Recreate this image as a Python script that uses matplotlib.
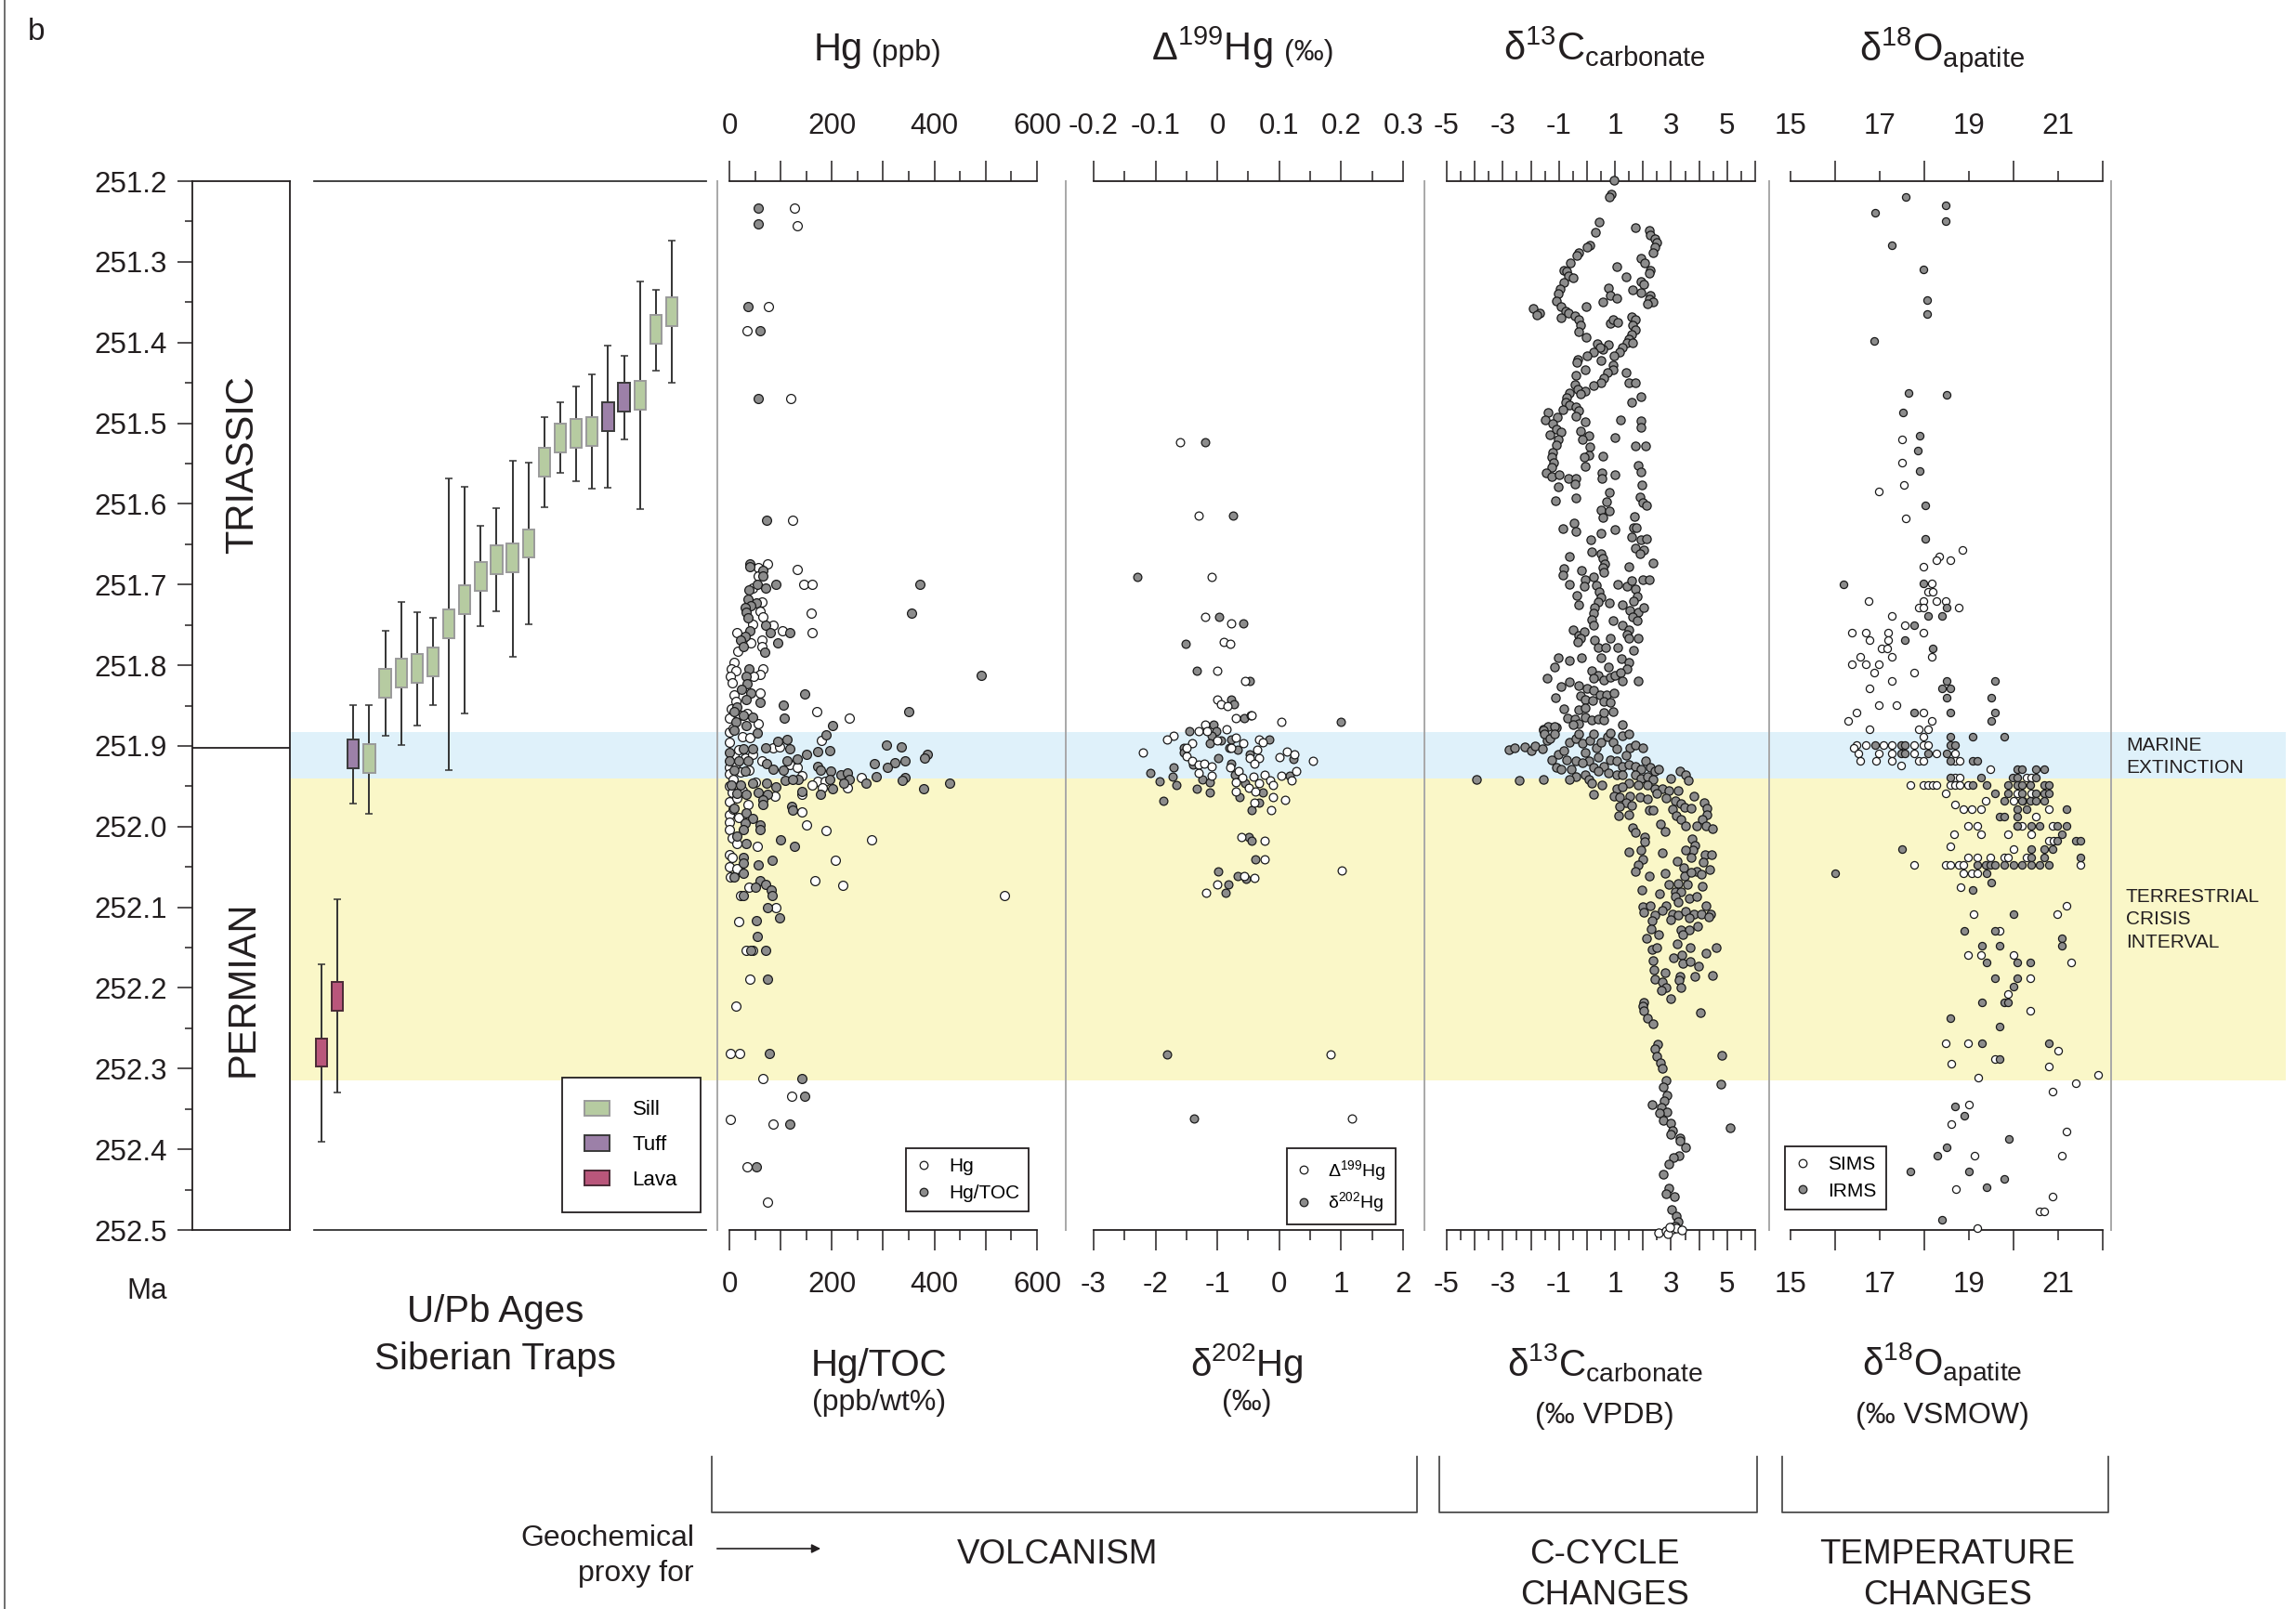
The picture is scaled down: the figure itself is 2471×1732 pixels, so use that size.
import numpy as np
import matplotlib.pyplot as plt
from matplotlib.patches import Patch, FancyArrowPatch
from matplotlib.lines import Line2D
from matplotlib.ticker import FixedLocator, FixedFormatter

plt.rcParams['font.family'] = ['Liberation Sans', 'DejaVu Sans']
plt.rcParams['mathtext.fontset'] = 'custom'
plt.rcParams['mathtext.rm'] = 'Liberation Sans'
plt.rcParams['mathtext.it'] = 'Liberation Sans:italic'
plt.rcParams['mathtext.bf'] = 'Liberation Sans:bold'

# ---------------- data ----------------
age_top, age_bottom = 251.2, 252.5
ptb_age = 251.902
marine_ext = (251.883, 251.940)
crisis = (251.940, 252.315)

# U/Pb ages of Siberian Traps: kind, age, young bound, old bound
ub_kind = ['Lava', 'Lava', 'Tuff', 'Sill', 'Sill', 'Sill', 'Sill', 'Sill', 'Sill', 'Sill',
           'Sill', 'Sill', 'Sill', 'Sill', 'Sill', 'Sill', 'Sill', 'Sill', 'Tuff', 'Tuff',
           'Sill', 'Sill', 'Sill']
ub_age = np.array([252.280, 252.210, 251.910, 251.916, 251.822, 251.810, 251.804, 251.796,
                   251.749, 251.719, 251.690, 251.669, 251.667, 251.649, 251.548, 251.518,
                   251.513, 251.510, 251.492, 251.468, 251.465, 251.384, 251.362])
ub_young = np.array([252.171, 252.090, 251.849, 251.849, 251.757, 251.722, 251.734, 251.741,
                     251.569, 251.579, 251.627, 251.605, 251.547, 251.549, 251.492, 251.474,
                     251.454, 251.439, 251.404, 251.417, 251.324, 251.335, 251.274])
ub_old = np.array([252.391, 252.330, 251.971, 251.984, 251.887, 251.899, 251.875, 251.849,
                   251.930, 251.860, 251.752, 251.733, 251.789, 251.749, 251.604, 251.561,
                   251.572, 251.581, 251.580, 251.520, 251.607, 251.435, 251.450])

# Hg (ppb), open symbols: (age, value)
hg_conc = np.array([
    (251.233, 126), (251.255, 132), (251.356, 77), (251.385, 34), (251.470, 120), (251.620, 123),
    (251.674, 75), (251.679, 56), (251.681, 132), (251.700, 145), (251.700, 161), (251.689, 57),
    (251.704, 45), (251.722, 63), (251.733, 60), (251.740, 66), (251.735, 160), (251.750, 85),
    (251.757, 104), (251.760, 161), (251.749, 45), (251.760, 15), (251.769, 63), (251.772, 42),
    (251.777, 63), (251.783, 16), (251.797, 9), (251.804, 3), (251.807, 12), (251.805, 66),
    (251.811, 60), (251.814, 48), (251.814, 2), (251.822, 6), (251.835, 60), (251.837, 9),
    (251.854, 3), (251.857, 171), (251.866, 234), (251.866, 0), (251.873, 57), (251.883, 0),
    (251.893, 179), (251.902, 85), (251.901, 97), (251.896, 0), (251.912, 9), (251.918, 63),
    (251.923, 118), (251.926, 133), (251.927, 0), (251.935, 0), (251.937, 142), (251.939, 257),
    (251.944, 172), (251.949, 162), (251.944, 187), (251.952, 181), (251.952, 231), (251.950, 0),
    (251.962, 88), (251.960, 142), (251.969, 0), (251.973, 36), (251.982, 142), (251.985, 0),
    (251.989, 18), (251.994, 0), (251.998, 151), (252.004, 0), (252.005, 189), (252.014, 6),
    (252.016, 277), (252.021, 15), (252.025, 54), (252.035, 0), (252.038, 6), (252.042, 207),
    (252.050, 0), (252.052, 15), (252.063, 2), (252.067, 167), (252.075, 38), (252.073, 222),
    (252.085, 21), (252.085, 536), (252.100, 91), (252.118, 18), (252.153, 33), (252.153, 46),
    (252.189, 39), (252.223, 12), (252.281, 2), (252.281, 20), (252.312, 66), (252.334, 121),
    (252.363, 2), (252.369, 86), (252.422, 34), (252.466, 74),
    (251.845, 12), (251.862, 20), (251.878, 8), (251.888, 25), (251.905, 18), (251.915, 30),
    (251.922, 12), (251.932, 22), (251.941, 8), (251.955, 25), (251.958, 5), (251.965, 15),
    (251.978, 8), (251.860, 35), (251.890, 40), (251.910, 45), (251.930, 38), (251.945, 50)])

# Hg/TOC (ppb/wt%), filled symbols: (age, value)
hg_toc = np.array([
    (251.233, 57), (251.253, 57), (251.356, 37), (251.385, 60), (251.470, 57), (251.620, 72),
    (251.674, 39), (251.678, 40), (251.683, 66), (251.689, 66), (251.700, 54), (251.700, 91),
    (251.704, 71), (251.707, 38), (251.718, 36), (251.723, 53), (251.726, 41), (251.729, 30),
    (251.734, 33), (251.741, 36), (251.750, 71), (251.757, 39), (251.760, 80), (251.760, 117),
    (251.764, 30), (251.769, 21), (251.772, 94), (251.777, 27), (251.784, 68), (251.700, 371),
    (251.735, 356), (251.813, 492), (251.804, 38), (251.814, 33), (251.823, 34), (251.830, 24),
    (251.834, 42), (251.843, 33), (251.846, 60), (251.836, 146), (251.849, 105), (251.866, 107),
    (251.852, 15), (251.858, 9), (251.862, 27), (251.864, 45), (251.870, 12), (251.875, 33),
    (251.875, 202), (251.886, 189), (251.857, 350), (251.881, 9), (251.884, 54), (251.894, 94),
    (251.892, 112), (251.899, 306), (251.901, 335), (251.908, 0), (251.904, 27), (251.904, 45),
    (251.902, 70), (251.903, 118), (251.907, 173), (251.906, 196), (251.911, 387), (251.915, 380),
    (251.911, 151), (251.918, 0), (251.919, 18), (251.918, 36), (251.918, 112), (251.916, 133),
    (251.922, 73), (251.922, 283), (251.921, 323), (251.926, 309), (251.919, 342), (251.930, 9),
    (251.931, 30), (251.929, 85), (251.930, 105), (251.925, 173), (251.930, 177), (251.931, 198),
    (251.936, 218), (251.934, 230), (251.938, 286), (251.939, 342), (251.943, 337), (251.942, 234),
    (251.946, 223), (251.941, 196), (251.946, 266), (251.946, 429), (251.948, 3), (251.949, 21),
    (251.946, 45), (251.946, 73), (251.951, 91), (251.943, 109), (251.941, 135), (251.942, 124),
    (251.959, 15), (251.960, 33), (251.958, 57), (251.960, 75), (251.956, 141), (251.960, 178),
    (251.953, 202), (251.953, 378), (251.967, 66), (251.973, 66), (251.975, 121), (251.980, 124),
    (251.977, 9), (251.983, 33), (251.990, 45), (251.996, 30), (251.998, 60), (252.004, 60),
    (252.004, 27), (252.012, 15), (252.016, 100), (252.025, 127), (252.021, 33), (252.038, 27),
    (252.047, 56), (252.042, 83), (252.045, 27), (252.058, 27), (252.063, 9), (252.067, 60),
    (252.072, 70), (252.079, 82), (252.075, 51), (252.085, 27), (252.085, 83), (252.100, 75),
    (252.113, 98), (252.117, 53), (252.136, 54), (252.153, 41), (252.153, 70), (252.189, 75),
    (252.281, 78), (252.312, 142), (252.334, 146), (252.369, 117), (252.422, 53)])

# Delta199Hg (permil), open symbols
d199 = np.array([
    (251.523, -0.061), (251.615, -0.031), (251.690, -0.010), (251.740, -0.020), (251.748, 0.022),
    (251.771, 0.010), (251.774, 0.020), (251.807, 0.000), (251.820, 0.044), (251.843, -0.001),
    (251.848, 0.005), (251.850, 0.016), (251.866, 0.030), (251.862, 0.055), (251.870, 0.103),
    (251.874, -0.020), (251.882, -0.030), (251.882, -0.017), (251.879, 0.014), (251.887, -0.071),
    (251.892, -0.081), (251.893, -0.001), (251.890, 0.030), (251.897, 0.042), (251.892, 0.067),
    (251.896, 0.074), (251.897, -0.041), (251.902, -0.050), (251.902, 0.022), (251.905, 0.065),
    (251.908, -0.121), (251.913, -0.050), (251.918, -0.041), (251.923, -0.031), (251.922, -0.021),
    (251.925, -0.010), (251.915, 0.052), (251.915, 0.067), (251.922, 0.060), (251.914, 0.101),
    (251.907, 0.112), (251.911, 0.124), (251.919, 0.154), (251.927, 0.020), (251.931, 0.034),
    (251.933, -0.031), (251.937, -0.010), (251.939, 0.040), (251.938, 0.059), (251.936, 0.077),
    (251.937, 0.104), (251.931, 0.128), (251.945, 0.030), (251.952, 0.051), (251.946, 0.067),
    (251.943, 0.086), (251.949, 0.090), (251.943, 0.120), (251.963, 0.090), (251.957, 0.030),
    (251.957, 0.062), (251.967, 0.110), (251.970, 0.060), (251.979, 0.087), (252.013, 0.038),
    (252.017, 0.077), (252.040, 0.077), (252.054, 0.201), (252.061, 0.043), (252.064, 0.060),
    (252.072, 0.000), (252.082, -0.018), (252.282, 0.183), (252.362, 0.217)])

# delta202Hg (permil), filled symbols
d202 = np.array([
    (251.523, -1.20), (251.615, -0.75), (251.690, -2.30), (251.740, -0.97), (251.748, -0.59),
    (251.774, -1.51), (251.807, -1.34), (251.820, -0.47), (251.843, -0.78), (251.848, -0.73),
    (251.866, -0.57), (251.862, -0.46), (251.870, 0.99), (251.874, -1.06), (251.882, -1.02),
    (251.882, -1.46), (251.887, -1.10), (251.893, -0.94), (251.892, -0.78), (251.892, -0.16),
    (251.897, -1.13), (251.902, -1.54), (251.902, -0.81), (251.905, -0.68), (251.908, -1.55),
    (251.911, -0.48), (251.923, -1.40), (251.915, -0.99), (251.916, 0.23), (251.937, 0.17),
    (251.922, -0.78), (251.927, -1.71), (251.933, -2.08), (251.938, -1.72), (251.944, -1.94),
    (251.949, -1.67), (251.941, -1.25), (251.945, -1.13), (251.936, -0.72), (251.946, -0.56),
    (251.958, -0.26), (251.953, -1.33), (251.958, -1.13), (251.968, -1.88), (251.963, -0.64),
    (251.970, -0.32), (251.980, -0.45), (252.013, -0.49), (252.018, -0.44), (252.040, -0.38),
    (252.055, -0.99), (252.061, -0.68), (252.065, -0.53), (252.072, -0.82), (252.082, -0.87),
    (252.282, -1.81), (252.362, -1.38)])

# delta13C carbonate (permil VPDB)
d13c = np.array([
    (251.199, 0.96), (251.216, 0.88), (251.220, 0.81), (251.251, 0.45), (251.263, 0.30),
    (251.258, 1.71), (251.261, 2.23), (251.267, 2.26), (251.271, 2.43), (251.276, 2.48),
    (251.282, 2.43), (251.289, 2.37), (251.279, 0.11), (251.282, 0.00), (251.289, -0.28),
    (251.292, -0.37), (251.301, -0.59), (251.295, 1.93), (251.301, 2.06), (251.306, 1.05),
    (251.310, 2.26), (251.314, 2.22), (251.310, -0.81), (251.312, -0.72), (251.317, -0.66),
    (251.320, -0.50), (251.319, 1.38), (251.324, 1.91), (251.328, 2.02), (251.335, 1.63),
    (251.338, 1.91), (251.342, 2.26), (251.346, 2.21), (251.350, 2.35), (251.352, 2.17),
    (251.332, 0.77), (251.342, 0.83), (251.345, 1.07), (251.350, 0.55), (251.325, -0.83),
    (251.333, -0.96), (251.339, -1.03), (251.348, -1.10), (251.355, -0.94), (251.361, -0.77),
    (251.358, -1.93), (251.364, -1.68), (251.366, -1.80), (251.355, -0.03), (251.364, -0.66),
    (251.369, -0.91), (251.367, -0.44), (251.372, -0.28), (251.379, -0.22), (251.387, -0.30),
    (251.393, -0.02), (251.376, 0.83), (251.372, 0.92), (251.375, 1.11), (251.368, 1.58),
    (251.372, 1.73), (251.379, 1.62), (251.384, 1.71), (251.390, 1.60), (251.396, 1.49),
    (251.400, 1.43), (251.400, 1.62), (251.406, 1.27), (251.412, 1.16), (251.417, 0.96),
    (251.403, 0.77), (251.408, 0.55), (251.401, 0.36), (251.406, 0.47), (251.412, 0.22),
    (251.417, 0.00), (251.421, -0.33), (251.425, -0.37), (251.434, -0.06), (251.422, 0.50),
    (251.428, 0.94), (251.434, 0.92), (251.437, 0.74), (251.444, 0.61), (251.450, 0.50),
    (251.453, 0.22), (251.437, 1.38), (251.450, 1.49), (251.450, 1.71), (251.441, -0.41),
    (251.452, -0.44), (251.458, -0.33), (251.460, -0.06), (251.464, -0.22), (251.463, -0.61),
    (251.468, -0.72), (251.474, -0.77), (251.478, -0.61), (251.480, -0.39), (251.484, -0.28),
    (251.483, -0.85), (251.474, 1.60), (251.467, 1.93), (251.487, -1.38), (251.496, -1.49),
    (251.493, -1.05), (251.500, -1.21), (251.507, -1.10), (251.514, -1.32), (251.511, -0.94),
    (251.520, -1.03), (251.527, -1.10), (251.536, -1.21), (251.542, -1.27), (251.549, -1.18),
    (251.555, -1.27), (251.562, -1.47), (251.566, -1.25), (251.564, -1.00), (251.491, -0.39),
    (251.498, -0.06), (251.510, -0.22), (251.516, 0.06), (251.520, -0.17), (251.529, 0.11),
    (251.540, 0.06), (251.542, -0.11), (251.553, -0.06), (251.496, 1.19), (251.497, 1.93),
    (251.505, 1.93), (251.518, 0.99), (251.528, 1.71), (251.528, 2.10), (251.541, 0.58),
    (251.552, 1.82), (251.560, 1.93), (251.562, 0.53), (251.568, 0.52), (251.564, 0.99),
    (251.569, -0.66), (251.568, -0.41), (251.575, -0.42), (251.579, -1.02), (251.596, -1.12),
    (251.593, -0.39), (251.586, 0.79), (251.597, 0.69), (251.576, 1.95), (251.591, 1.89),
    (251.598, 1.99), (251.602, 2.13), (251.608, 0.50), (251.617, 0.56), (251.609, 0.81),
    (251.616, 1.69), (251.631, -0.85), (251.624, -0.46), (251.634, -0.39), (251.636, 0.50),
    (251.632, 1.00), (251.630, 1.66), (251.630, 1.77), (251.644, 0.13), (251.641, 1.60),
    (251.644, 1.93), (251.643, 2.13), (251.655, 1.71), (251.657, 2.02), (251.662, 1.88),
    (251.659, 0.17), (251.662, 0.50), (251.668, 0.58), (251.674, 0.64), (251.679, 0.55),
    (251.685, 0.61), (251.665, -0.63), (251.680, -0.81), (251.688, -0.85), (251.682, -0.19),
    (251.673, 2.35), (251.678, 1.49), (251.700, -0.61), (251.694, -0.06), (251.691, 0.22),
    (251.702, -0.08), (251.701, 0.33), (251.700, 1.10), (251.702, 1.43), (251.695, 1.60),
    (251.694, 1.99), (251.694, 2.23), (251.706, 1.71), (251.715, 1.80), (251.721, 1.66),
    (251.709, 0.44), (251.716, 0.50), (251.722, 0.39), (251.729, 0.28), (251.736, 0.22),
    (251.743, 0.17), (251.750, 0.25), (251.723, 0.81), (251.713, -0.37), (251.725, -0.28),
    (251.725, 1.27), (251.732, 1.54), (251.734, 1.82), (251.729, 2.01), (251.740, 1.62),
    (251.745, 1.80), (251.745, 0.92), (251.750, 1.27), (251.756, 1.49), (251.762, 1.43),
    (251.767, 1.49), (251.767, 1.82), (251.756, -0.50), (251.763, -0.30), (251.758, -0.11),
    (251.767, -0.22), (251.771, -0.33), (251.769, 0.28), (251.778, 0.39), (251.778, 0.66),
    (251.767, 0.83), (251.778, 1.11), (251.781, 1.66), (251.791, -1.02), (251.802, -1.16),
    (251.816, -1.41), (251.794, -0.64), (251.791, -0.19), (251.791, 0.50), (251.802, 0.77),
    (251.792, 1.24), (251.797, 1.49), (251.804, 1.43), (251.807, 0.17), (251.813, 0.39),
    (251.818, 0.61), (251.815, 0.83), (251.813, 0.99), (251.809, 1.21), (251.819, 1.82),
    (251.820, 1.27), (251.816, 0.25), (251.821, -0.61), (251.826, -0.94), (251.825, -0.28),
    (251.829, 0.00), (251.831, 0.22), (251.840, -1.13), (251.838, -0.22), (251.842, -0.06),
    (251.837, 0.47), (251.837, 0.69), (251.835, 0.96), (251.844, 0.19), (251.854, -0.83),
    (251.855, -0.28), (251.853, -0.06), (251.845, 0.61), (251.846, 0.83), (251.857, 0.94),
    (251.865, -0.70), (251.867, -0.44), (251.864, -0.06), (251.868, 0.17), (251.867, 0.39),
    (251.868, 0.61), (251.874, 1.25), (251.879, -1.55), (251.876, -1.38), (251.877, -1.10),
    (251.859, 0.61), (251.872, -0.28), (251.874, -0.50), (251.876, -1.16), (251.881, -1.55),
    (251.905, -2.79), (251.902, -2.57), (251.901, -2.21), (251.906, -1.99), (251.900, -1.84),
    (251.904, -1.60), (251.893, -1.43), (251.885, -1.51), (251.891, -1.33), (251.885, -1.16),
    (251.917, -1.27), (251.927, -1.10), (251.929, -0.94), (251.910, -1.03), (251.906, -0.83),
    (251.917, -0.72), (251.929, -0.55), (251.919, -0.41), (251.895, -0.61), (251.891, -0.39),
    (251.885, -0.30), (251.897, -0.17), (251.908, -0.06), (251.893, 0.11), (251.885, 0.22),
    (251.902, 0.33), (251.914, 0.39), (251.895, 0.50), (251.889, 0.72), (251.884, 0.83),
    (251.895, 0.94), (251.904, 1.05), (251.887, 1.27), (251.885, 1.49), (251.902, 1.54),
    (251.899, 1.71), (251.902, 2.00), (251.917, 0.83), (251.925, 0.61), (251.919, 1.05),
    (251.925, 1.27), (251.912, 1.38), (251.919, 0.06), (251.921, -0.17), (251.927, 0.25),
    (251.931, 0.39), (251.934, 0.77), (251.936, 1.05), (251.936, -0.06), (251.942, 0.06),
    (251.946, 0.17), (251.938, -0.39), (251.942, -0.61), (251.942, -1.55), (251.943, -2.43),
    (251.942, -3.95), (251.948, 0.52), (251.960, 0.22), (251.923, 1.49), (251.925, 1.71),
    (251.929, 1.93), (251.919, 2.10), (251.927, 2.26), (251.931, 2.43), (251.929, 2.54),
    (251.936, 1.27), (251.936, 1.71), (251.940, 1.93), (251.938, 2.15), (251.942, 2.37),
    (251.946, 1.49), (251.948, 1.82), (251.948, 2.15), (251.953, 2.43), (251.953, 2.70),
    (251.955, 2.93), (251.955, 3.26), (251.931, 3.31), (251.936, 3.53), (251.943, 3.61),
    (251.940, 3.00), (251.953, 1.05), (251.951, 1.27), (251.962, 0.96), (251.963, 1.16),
    (251.962, 1.54), (251.963, 1.88), (251.966, 2.15), (251.959, 2.48), (251.965, 2.81),
    (251.968, 3.14), (251.972, 3.36), (251.962, 3.81), (251.970, 1.38), (251.974, 1.60),
    (251.975, 1.16), (251.987, 1.14), (251.985, 1.51), (251.979, 2.21), (251.980, 2.37),
    (251.978, 3.04), (251.987, 3.20), (251.976, 3.48), (251.977, 3.70), (251.970, 4.17),
    (251.977, 4.27), (251.985, 4.27), (251.991, 4.11), (251.999, 3.92), (251.999, 4.25),
    (252.002, 4.47), (251.991, 3.36), (251.999, 3.53), (251.997, 2.62), (252.006, 2.79),
    (252.001, 1.62), (252.007, 1.71), (252.013, 2.06), (252.019, 2.06), (252.015, 3.75),
    (252.023, 3.86), (252.029, 3.79), (252.029, 3.53), (252.031, 1.49), (252.029, 1.91),
    (252.040, 1.99), (252.032, 2.70), (252.035, 4.20), (252.035, 4.45), (252.038, 3.70),
    (252.044, 4.14), (252.043, 3.22), (252.051, 3.45), (252.047, 1.82), (252.055, 1.71),
    (252.061, 2.23), (252.058, 2.79), (252.055, 3.92), (252.053, 4.36), (252.059, 4.08),
    (252.061, 3.48), (252.057, 3.70), (252.072, 2.93), (252.070, 3.26), (252.072, 3.59),
    (252.074, 4.11), (252.078, 1.96), (252.083, 2.59), (252.081, 3.14), (252.081, 3.36),
    (252.087, 3.14), (252.089, 3.64), (252.087, 3.92), (252.093, 3.26), (252.099, 1.99),
    (252.098, 2.26), (252.106, 2.04), (252.098, 2.81), (252.104, 2.68), (252.110, 2.43),
    (252.117, 2.32), (252.108, 3.04), (252.110, 3.26), (252.115, 2.98), (252.105, 3.53),
    (252.108, 3.81), (252.108, 4.08), (252.098, 4.23), (252.108, 4.42), (252.112, 4.34),
    (252.113, 3.66), (252.127, 2.30), (252.134, 2.54), (252.138, 2.13), (252.128, 3.36),
    (252.128, 3.64), (252.134, 3.42), (252.124, 3.94), (252.145, 3.23), (252.152, 2.32),
    (252.150, 2.48), (252.150, 3.67), (252.150, 4.61), (252.157, 4.25), (252.163, 3.09),
    (252.159, 3.39), (252.170, 3.42), (252.167, 3.67), (252.173, 3.97), (252.166, 2.37),
    (252.178, 2.40), (252.189, 2.43), (252.181, 2.79), (252.186, 3.31), (252.190, 3.28),
    (252.186, 3.86), (252.185, 4.49), (252.193, 2.70), (252.199, 2.81), (252.203, 2.65),
    (252.199, 3.36), (252.213, 2.98), (252.218, 2.04), (252.223, 1.99), (252.228, 2.04),
    (252.230, 4.05), (252.238, 2.15), (252.244, 2.34), (252.270, 2.52), (252.275, 2.43),
    (252.285, 2.48), (252.293, 2.61), (252.300, 2.68), (252.283, 4.82), (252.319, 4.78),
    (252.315, 2.81), (252.323, 2.73), (252.333, 2.85), (252.340, 2.76), (252.345, 2.33),
    (252.348, 2.65), (252.354, 2.85), (252.355, 2.59), (252.364, 2.73), (252.368, 2.98),
    (252.373, 5.11), (252.377, 3.04), (252.381, 2.98), (252.386, 3.31), (252.389, 3.31),
    (252.398, 3.51), (252.408, 3.28), (252.410, 3.07), (252.418, 2.93), (252.431, 2.72),
    (252.448, 2.93), (252.455, 2.81), (252.459, 3.12), (252.475, 3.01), (252.483, 3.20),
    (252.490, 3.26), (252.497, 3.05), (252.495, 3.15)])
d13c_open = np.array([(252.503, 2.54), (252.501, 2.81), (252.499, 3.04), (252.498, 3.20),
                      (252.500, 3.37), (252.505, 2.87), (252.497, 2.95)])

# delta18O apatite (permil VSMOW): SIMS open, IRMS filled
d18o_sims = np.array([
    (251.520, 17.51), (251.549, 17.51), (251.585, 16.98), (251.576, 17.55), (251.618, 17.58),
    (251.657, 18.85), (251.665, 18.34),
    (251.678, 17.98), (251.670, 18.28), (251.670, 18.58), (251.699, 18.17), (251.709, 18.08),
    (251.709, 18.18), (251.720, 16.75), (251.720, 17.98), (251.720, 18.28), (251.720, 18.48),
    (251.729, 17.87), (251.729, 17.98), (251.729, 18.78), (251.739, 17.27), (251.750, 17.57),
    (251.760, 16.38), (251.760, 16.68), (251.760, 17.18), (251.760, 17.98), (251.769, 16.77),
    (251.769, 17.18), (251.779, 17.05), (251.779, 17.16), (251.789, 16.57), (251.789, 17.27),
    (251.789, 18.17), (251.799, 16.37), (251.799, 16.68), (251.799, 16.98), (251.809, 16.87),
    (251.809, 17.77), (251.819, 17.27), (251.829, 16.77), (251.849, 16.98), (251.849, 17.38),
    (251.859, 16.47), (251.859, 17.98), (251.869, 16.29), (251.869, 18.17), (251.879, 16.77),
    (251.879, 17.87), (251.879, 18.08), (251.889, 17.98), (251.899, 16.47), (251.899, 16.68),
    (251.899, 17.09), (251.899, 17.27), (251.899, 17.77), (251.899, 17.98), (251.899, 18.08),
    (251.902, 16.42), (251.909, 16.52), (251.909, 16.98), (251.909, 17.27), (251.909, 17.77),
    (251.909, 18.28), (251.909, 18.69), (251.919, 16.57), (251.919, 16.92), (251.919, 17.27),
    (251.919, 17.87), (251.919, 17.98), (251.919, 18.69), (251.919, 18.80), (251.924, 17.47),
    (251.929, 19.48), (251.939, 18.69), (251.939, 18.80), (251.949, 17.68), (251.949, 17.98),
    (251.949, 18.08), (251.949, 18.18), (251.949, 18.28), (251.949, 18.58), (251.949, 18.69),
    (251.949, 18.80), (251.949, 18.97), (251.959, 18.48), (251.939, 20.29), (251.939, 20.40),
    (251.959, 20.09), (251.968, 19.99), (251.968, 20.20), (251.959, 20.40), (251.968, 19.38),
    (251.973, 18.69), (251.978, 18.88), (251.978, 19.07), (251.978, 19.28), (251.978, 20.79),
    (251.988, 20.49), (251.999, 18.97), (251.999, 19.18), (251.999, 20.09), (251.999, 20.19),
    (251.999, 20.88), (252.009, 18.67), (252.009, 19.28), (252.009, 19.88), (252.009, 20.39),
    (252.018, 20.79), (252.018, 20.90), (252.024, 18.58), (252.028, 19.99), (252.038, 20.29),
    (252.038, 18.97), (252.038, 19.18), (252.038, 19.48), (252.038, 19.79), (252.038, 19.88),
    (252.048, 17.77), (252.048, 18.48), (252.048, 18.58), (252.048, 18.78), (252.048, 18.88),
    (252.048, 21.49), (252.058, 18.88), (252.058, 19.07), (252.058, 19.18), (252.075, 18.82),
    (252.098, 21.19), (252.108, 19.10), (252.108, 20.98), (252.129, 19.68), (252.159, 18.98),
    (252.159, 19.28), (252.159, 19.99), (252.168, 21.29), (252.188, 20.38), (252.208, 19.88),
    (252.228, 20.38), (252.268, 18.48), (252.268, 18.98), (252.278, 20.99), (252.288, 19.58),
    (252.294, 18.60), (252.297, 20.79), (252.311, 19.21), (252.308, 21.89), (252.318, 21.39),
    (252.328, 20.88), (252.345, 19.01), (252.369, 18.61), (252.378, 21.19), (252.408, 19.12),
    (252.408, 21.08), (252.449, 18.70), (252.458, 20.88), (252.477, 20.58), (252.477, 20.68),
    (252.498, 19.19)])
d18o_irms = np.array([
    (251.220, 17.58), (251.230, 18.48), (251.239, 16.90), (251.250, 18.48), (251.280, 17.27),
    (251.309, 17.98), (251.347, 18.06), (251.365, 18.06), (251.398, 16.88), (251.462, 17.64),
    (251.465, 18.49), (251.487, 17.53), (251.516, 17.90), (251.534, 17.86), (251.559, 17.90),
    (251.602, 18.03), (251.643, 18.03),
    (251.700, 16.19), (251.699, 17.98), (251.729, 18.49), (251.739, 18.09), (251.739, 18.39),
    (251.750, 17.77), (251.769, 17.57), (251.779, 18.18), (251.820, 18.49), (251.820, 19.58),
    (251.829, 18.39), (251.829, 18.58), (251.840, 18.49), (251.840, 19.49), (251.859, 17.77),
    (251.859, 18.58), (251.859, 19.58), (251.869, 19.49), (251.889, 18.58), (251.889, 19.09),
    (251.889, 19.79), (251.899, 16.89), (251.899, 17.47), (251.899, 17.57), (251.899, 18.58),
    (251.899, 18.69), (251.909, 17.47), (251.909, 17.57), (251.909, 18.08), (251.909, 18.49),
    (251.919, 18.58), (251.919, 19.09), (251.919, 19.18), (251.929, 20.09), (251.929, 20.19),
    (251.929, 20.49), (251.929, 20.68), (251.939, 18.58), (251.939, 19.28), (251.939, 19.98),
    (251.939, 20.09), (251.939, 20.49), (251.949, 19.09), (251.949, 19.39), (251.949, 19.88),
    (251.949, 20.09), (251.949, 20.19), (251.949, 20.38), (251.949, 20.68), (251.949, 20.79),
    (251.959, 19.58), (251.959, 19.88), (251.959, 20.19), (251.959, 20.49), (251.959, 20.68),
    (251.959, 20.79), (251.968, 19.79), (251.968, 20.19), (251.968, 20.38), (251.968, 20.49),
    (251.968, 20.68), (251.978, 20.09), (251.978, 20.29), (251.978, 21.19), (251.988, 19.68),
    (251.988, 19.79), (251.988, 20.09), (251.999, 20.09), (251.999, 20.39), (251.999, 20.59),
    (251.999, 20.98), (251.999, 21.19), (252.009, 21.08), (252.018, 20.98), (252.018, 21.39),
    (252.018, 21.49), (252.028, 17.50), (252.028, 20.39), (252.028, 20.68), (252.028, 20.88),
    (252.038, 20.39), (252.038, 20.68), (252.038, 21.49), (252.048, 19.18), (252.048, 19.38),
    (252.048, 19.48), (252.048, 19.58), (252.048, 19.79), (252.048, 19.99), (252.048, 20.19),
    (252.048, 20.39), (252.048, 20.59), (252.048, 20.79), (252.058, 15.99), (252.058, 19.39),
    (252.069, 19.49), (252.078, 19.09), (252.108, 19.99), (252.129, 18.89), (252.129, 19.58),
    (252.138, 21.08), (252.148, 21.08), (252.148, 19.29), (252.148, 19.68), (252.168, 19.39),
    (252.168, 20.09), (252.168, 20.38), (252.188, 19.58), (252.188, 20.09), (252.198, 19.99),
    (252.218, 19.79), (252.218, 19.88), (252.218, 19.29), (252.238, 18.58), (252.248, 19.68),
    (252.268, 19.29), (252.268, 20.79), (252.288, 19.68), (252.347, 18.69), (252.358, 18.89),
    (252.387, 19.89), (252.397, 18.49), (252.408, 18.29), (252.427, 17.69), (252.427, 18.99),
    (252.437, 19.79), (252.447, 19.39), (252.487, 18.39)])

# ---------------- figure ----------------
W, H = 2471, 1732
fig = plt.figure(figsize=(W / 100, H / 100), dpi=100)
TXT = '#231f20'
GREY_LINE = '#a8a8a8'
FILL = '#8c8c8c'


def box(x0, y0, x1, y1):
    return fig.add_axes([x0 / W, 1 - y1 / H, (x1 - x0) / W, (y1 - y0) / H])


def ftext(x, y, s, **kw):
    kw.setdefault('color', TXT)
    fig.text(x / W, 1 - y / H, s, **kw)


def fline(xs, ys, **kw):
    fig.add_artist(Line2D([x / W for x in xs], [1 - y / H for y in ys],
                          transform=fig.transFigure, **kw))


# background bands
bg = box(312, 195, 2460, 1324)
bg.set_ylim(age_bottom, age_top)
bg.axhspan(*marine_ext, color='#dff1fa', lw=0)
bg.axhspan(*crisis, color='#faf7c8', lw=0)
bg.axis('off')

# period column with age axis
per = box(207, 195, 312, 1324)
per.set_ylim(age_bottom, age_top)
per.set_xlim(0, 1)
per.patch.set_alpha(0)
per.set_xticks([])
yt = np.round(np.arange(251.2, 252.51, 0.1), 1)
per.yaxis.set_major_locator(FixedLocator(yt))
per.yaxis.set_major_formatter(FixedFormatter([f'{v:.1f}' for v in yt]))
per.yaxis.set_minor_locator(FixedLocator(np.arange(251.25, 252.5, 0.1)))
per.tick_params(axis='y', which='major', length=11.5, width=1.1, pad=8, labelsize=22.5,
                colors=TXT)
per.tick_params(axis='y', which='minor', length=5.8, width=1.1, colors=TXT)
for s in per.spines.values():
    s.set_linewidth(1.3)
    s.set_color(TXT)
per.axhline(ptb_age, color=TXT, lw=1.3)
per.text(0.52, (age_top + ptb_age) / 2, 'TRIASSIC', rotation=90, ha='center', va='center',
         fontsize=30, color=TXT)
per.text(0.52, (ptb_age + age_bottom) / 2, 'PERMIAN', rotation=90, ha='center', va='center',
         fontsize=30, color=TXT)

# U/Pb ages
up = box(338, 195, 760, 1324)
up.set_ylim(age_bottom, age_top)
up.set_xlim(-0.467, 24.16)
up.patch.set_alpha(0)
up.set_xticks([])
up.set_yticks([])
for s in ['left', 'right']:
    up.spines[s].set_visible(False)
for s in ['top', 'bottom']:
    up.spines[s].set_linewidth(1.3)
    up.spines[s].set_color('#333333')
kind_fill = {'Sill': '#b6cba1', 'Tuff': '#9c80a8', 'Lava': '#b9567b'}
kind_edge = {'Sill': '#9a9a9a', 'Tuff': '#3a3a3a', 'Lava': '#4a2a36'}
xi = np.arange(len(ub_age))
up.errorbar(xi, ub_age, yerr=[ub_age - ub_young, ub_old - ub_age], fmt='none',
            ecolor='#333333', elinewidth=1.4, capsize=2.6, capthick=1.1, zorder=2)
box_h = 0.0355
up.bar(xi, box_h, bottom=ub_age - box_h / 2, width=0.72,
       color=[kind_fill[k] for k in ub_kind], edgecolor=[kind_edge[k] for k in ub_kind],
       linewidth=1.4, zorder=3)
leg = up.legend(handles=[Patch(facecolor=kind_fill[k], edgecolor=kind_edge[k], lw=1.4, label=k)
                         for k in ['Sill', 'Tuff', 'Lava']],
                loc='upper left', bbox_to_anchor=(605 / W, 1 - 1160 / H),
                bbox_transform=fig.transFigure, fontsize=16, fancybox=False, framealpha=1,
                edgecolor=TXT, handlelength=1.2, handleheight=0.75, labelspacing=0.75,
                borderpad=1.1, handletextpad=1.1, borderaxespad=0)
leg.get_frame().set_linewidth(1.3)


def style_axis(ax, lo, hi, major, labels, minor, major_len=15.8, minor_len=7.9,
               top=True, bottom=True, pad=16):
    ax.set_ylim(age_bottom, age_top)
    ax.patch.set_alpha(0)
    ax.set_yticks([])
    ax.xaxis.set_major_locator(FixedLocator(major))
    ax.xaxis.set_major_formatter(FixedFormatter(labels))
    ax.xaxis.set_minor_locator(FixedLocator(minor))
    ax.tick_params(axis='x', which='both', top=top, bottom=bottom, labeltop=top,
                   labelbottom=bottom, direction='out', colors=TXT, width=1.1)
    ax.tick_params(axis='x', which='major', length=major_len, labelsize=22.5, pad=pad)
    ax.tick_params(axis='x', which='minor', length=minor_len)
    for s in ['top', 'bottom']:
        ax.spines[s].set_bounds(lo, hi)
        ax.spines[s].set_linewidth(1.3)
        ax.spines[s].set_color(TXT)
        ax.spines[s].set_visible((s == 'top' and top) or (s == 'bottom' and bottom))
    ax.spines['left'].set_color(GREY_LINE)
    ax.spines['left'].set_linewidth(1.4)
    ax.spines['right'].set_visible(False)


def dots(ax, pts, filled, s):
    ax.scatter(pts[:, 1], pts[:, 0], s=s, facecolor=FILL if filled else 'white',
               edgecolor='#1a1a1a', linewidths=0.9, zorder=3, clip_on=False)


# Hg panel
hg = box(772, 195, 1147, 1324)
hg.set_xlim(-23.56, 656.2)
style_axis(hg, 0, 600, np.arange(0, 601, 100), ['0', '', '200', '', '400', '', '600'],
           np.arange(50, 600, 100))
dots(hg, hg_conc, False, 50)
dots(hg, hg_toc, True, 50)
mk = dict(marker='o', ls='none', markersize=6.2, markeredgecolor='#1a1a1a', markeredgewidth=0.9)
leg = hg.legend(handles=[Line2D([], [], markerfacecolor='white', label='Hg', **mk),
                         Line2D([], [], markerfacecolor=FILL, label='Hg/TOC', **mk)],
                loc='upper left', bbox_to_anchor=(975 / W, 1 - 1236 / H),
                bbox_transform=fig.transFigure, fontsize=15, fancybox=False, framealpha=1,
                edgecolor=TXT, handlelength=0.8, labelspacing=0.45, borderpad=0.5,
                handletextpad=0.9, borderaxespad=0)
leg.get_frame().set_linewidth(1.3)

# Hg isotope panel (bottom d202, top D199)
iso = box(1147, 195, 1533, 1324)
iso.set_xlim(-3.45, 2.345)
style_axis(iso, -3, 2, np.arange(-3, 3), ['-3', '-2', '-1', '0', '1', '2'],
           np.arange(-2.5, 2, 1.0), top=False)
iso_t = iso.twiny()
iso_t.set_xlim(-0.245, 0.3345)
style_axis(iso_t, -0.2, 0.3, np.round(np.arange(-0.2, 0.31, 0.1), 1),
           ['-0.2', '-0.1', '0', '0.1', '0.2', '0.3'], np.arange(-0.15, 0.3, 0.1), bottom=False)
iso_t.spines['left'].set_visible(False)
dots(iso, d202, True, 40)
dots(iso_t, d199, False, 40)
leg = iso_t.legend(handles=[Line2D([], [], markerfacecolor='white',
                                   label='$\\mathregular{Δ^{199}Hg}$', **mk),
                            Line2D([], [], markerfacecolor=FILL,
                                   label='$\\mathregular{δ^{202}Hg}$', **mk)],
                   loc='upper left', bbox_to_anchor=(1385 / W, 1 - 1236 / H),
                   bbox_transform=fig.transFigure, fontsize=14, fancybox=False, framealpha=1,
                   edgecolor=TXT, handlelength=0.8, labelspacing=0.45, borderpad=0.55,
                   handletextpad=0.9, borderaxespad=0)
leg.get_frame().set_linewidth(1.3)

# d13C panel
cc = box(1533, 195, 1904, 1324)
cc.set_xlim(-5.795, 6.497)
cmaj = np.arange(-5, 7)
style_axis(cc, -5, 6, cmaj, [str(v) if v % 2 else '' for v in cmaj], np.arange(-4.5, 6, 1.0))
dots(cc, d13c, True, 44)
dots(cc, d13c_open, False, 44)

# d18O panel: labelled ticks are the short ones
oo = box(1904, 195, 2272, 1324)
oo.set_xlim(14.521, 22.1875)
style_axis(oo, 15, 22, [15, 17, 19, 21], ['15', '17', '19', '21'], [16, 18, 20, 22],
           major_len=7.9, minor_len=15.8, pad=23.9)
oo.spines['right'].set_visible(True)
oo.spines['right'].set_color(GREY_LINE)
oo.spines['right'].set_linewidth(1.4)
dots(oo, d18o_sims, False, 34)
dots(oo, d18o_irms, True, 34)
leg = oo.legend(handles=[Line2D([], [], markerfacecolor='white', label='SIMS', **mk),
                         Line2D([], [], markerfacecolor=FILL, label='IRMS', **mk)],
                loc='upper left', bbox_to_anchor=(1921 / W, 1 - 1234 / H),
                bbox_transform=fig.transFigure, fontsize=15, fancybox=False, framealpha=1,
                edgecolor=TXT, handlelength=0.8, labelspacing=0.45, borderpad=0.5,
                handletextpad=0.9, borderaxespad=0)
leg.get_frame().set_linewidth(1.3)

# ---------------- text ----------------
ftext(30, 43, 'b', fontsize=24, va='baseline')
ftext(158, 1398, 'Ma', fontsize=22.5, ha='center', va='baseline')

ftext(929, 65, 'Hg', fontsize=30, ha='right', va='baseline')
ftext(938, 65, '(ppb)', fontsize=23, ha='left', va='baseline')
ftext(1370, 65, '$\\mathregular{Δ^{199}Hg}$', fontsize=30, ha='right', va='baseline')
ftext(1382, 65, '(‰)', fontsize=23, ha='left', va='baseline')
ftext(1727, 65, '$\\mathregular{δ^{13}C_{carbonate}}$', fontsize=30, ha='center', va='baseline')
ftext(2090, 65, '$\\mathregular{δ^{18}O_{apatite}}$', fontsize=30, ha='center', va='baseline')

ftext(533, 1423, 'U/Pb Ages', fontsize=29, ha='center', va='baseline')
ftext(533, 1474, 'Siberian Traps', fontsize=29, ha='center', va='baseline')
ftext(946, 1481, 'Hg/TOC', fontsize=29, ha='center', va='baseline')
ftext(946, 1518, '(ppb/wt%)', fontsize=23, ha='center', va='baseline')
ftext(1342, 1481, '$\\mathregular{δ^{202}Hg}$', fontsize=29, ha='center', va='baseline')
ftext(1342, 1518, '(‰)', fontsize=23, ha='center', va='baseline')
ftext(1727, 1481, '$\\mathregular{δ^{13}C_{carbonate}}$', fontsize=29, ha='center',
      va='baseline')
ftext(1727, 1532, '(‰ VPDB)', fontsize=23, ha='center', va='baseline')
ftext(2090, 1481, '$\\mathregular{δ^{18}O_{apatite}}$', fontsize=29, ha='center', va='baseline')
ftext(2090, 1532, '(‰ VSMOW)', fontsize=23, ha='center', va='baseline')

ftext(2288, 808, 'MARINE', fontsize=15, va='baseline')
ftext(2288, 832, 'EXTINCTION', fontsize=15, va='baseline')
ftext(2288, 971, 'TERRESTRIAL', fontsize=15, va='baseline')
ftext(2288, 995, 'CRISIS', fontsize=15, va='baseline')
ftext(2288, 1020, 'INTERVAL', fontsize=15, va='baseline')

# proxy brackets
for x0, x1 in [(766, 1525), (1549, 1891), (1918, 2269)]:
    fline([x0, x0, x1, x1], [1568, 1628, 1628, 1568], color='#4d4d4d', lw=1.3)
ftext(1138, 1683, 'VOLCANISM', fontsize=26.5, ha='center', va='baseline')
ftext(1727, 1683, 'C-CYCLE', fontsize=26.5, ha='center', va='baseline')
ftext(1727, 1727, 'CHANGES', fontsize=26.5, ha='center', va='baseline')
ftext(2096, 1683, 'TEMPERATURE', fontsize=26.5, ha='center', va='baseline')
ftext(2096, 1727, 'CHANGES', fontsize=26.5, ha='center', va='baseline')
ftext(747, 1664, 'Geochemical', fontsize=23, ha='right', va='baseline')
ftext(747, 1702, 'proxy for', fontsize=23, ha='right', va='baseline')
fig.add_artist(FancyArrowPatch((769 / W, 1 - 1667 / H), (886 / W, 1 - 1667 / H),
                               transform=fig.transFigure, arrowstyle='-|>',
                               mutation_scale=14, lw=1.2, color=TXT))

# panel border on the far left
fline([5, 5], [0, H], color='#555555', lw=1.2)

fig.savefig('out.png', dpi=100)
